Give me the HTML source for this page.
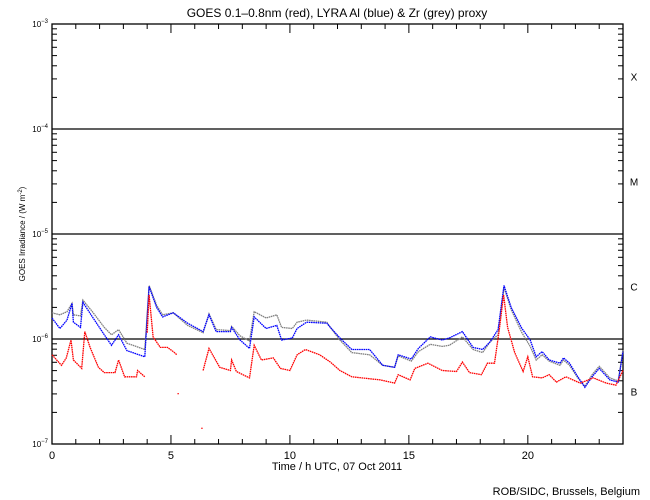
<!DOCTYPE html>
<html><head><meta charset="utf-8"><style>
body{margin:0;background:#fff}
svg{display:block;font-family:"Liberation Sans",sans-serif}
</style></head><body>
<svg id="chart" width="650" height="500" viewBox="0 0 650 500">
<rect width="650" height="500" fill="#fff"/>
<text x="337" y="17" font-size="12" text-anchor="middle">GOES 0.1–0.8nm (red), LYRA Al (blue) &amp; Zr (grey) proxy</text>
<text transform="translate(25,234) rotate(-90)" font-size="8" text-anchor="middle">GOES Irradiance / (W m<tspan dy="-3" font-size="6">-2</tspan><tspan dy="3">)</tspan></text>
<text x="337" y="470" font-size="11" text-anchor="middle">Time / h UTC, 07 Oct 2011</text>
<text x="640" y="495" font-size="11" text-anchor="end">ROB/SIDC, Brussels, Belgium</text>
<g id="axes"></g>
<g id="series"></g>
</svg>
<script>
const xTicks=[0,5,10,15,20];
const yDecades=[-3,-4,-5,-6,-7];
const classLabels=["X","M","C","B"];
const classExps=[-3.5,-4.5,-5.5,-6.5];
const blueTimes=[0,0.33,0.63,0.84,0.9,1.2,1.3,1.7,2.2,2.5,2.8,3.15,3.9,4.08,4.4,4.65,5.1,5.7,6.35,6.6,6.9,7.5,7.55,7.9,8.3,8.5,9.0,9.45,9.65,10.1,10.3,10.7,11.55,11.7,12.1,12.6,13.35,13.9,14.4,14.55,15.1,15.4,15.9,16.4,16.7,17.25,17.7,18.1,18.4,18.75,19.0,19.3,19.75,20.1,20.35,20.6,20.9,21.35,21.5,21.75,22.1,22.4,22.7,23.0,23.45,23.8,24.0];
const blueLog=[-5.80,-5.90,-5.82,-5.66,-5.84,-5.89,-5.65,-5.79,-5.96,-6.06,-5.96,-6.11,-6.17,-5.50,-5.70,-5.79,-5.75,-5.85,-5.93,-5.77,-5.93,-5.93,-5.89,-6.01,-6.09,-5.79,-5.90,-5.87,-6.01,-5.99,-5.90,-5.84,-5.85,-5.89,-5.99,-6.10,-6.10,-6.25,-6.27,-6.15,-6.19,-6.09,-5.98,-6.01,-5.99,-5.93,-6.08,-6.10,-6.03,-5.91,-5.49,-5.70,-5.90,-6.01,-6.17,-6.12,-6.20,-6.23,-6.18,-6.23,-6.36,-6.46,-6.36,-6.28,-6.39,-6.41,-6.12];
const greyLog=[-5.75,-5.77,-5.74,-5.66,-5.77,-5.78,-5.63,-5.74,-5.89,-5.96,-5.91,-6.04,-6.10,-5.49,-5.68,-5.77,-5.75,-5.87,-5.94,-5.76,-5.91,-5.92,-5.88,-5.97,-6.02,-5.74,-5.80,-5.77,-5.89,-5.90,-5.84,-5.82,-5.84,-5.89,-6.01,-6.13,-6.15,-6.25,-6.27,-6.16,-6.21,-6.12,-6.05,-6.07,-6.06,-5.98,-6.10,-6.13,-6.03,-5.96,-5.51,-5.72,-5.94,-6.07,-6.20,-6.15,-6.21,-6.25,-6.20,-6.25,-6.37,-6.45,-6.34,-6.26,-6.37,-6.40,-6.10];
const redTimes=[0,0.4,0.6,0.8,0.9,1.25,1.38,1.6,1.95,2.2,2.65,2.8,3.05,3.55,3.6,3.9,3.95,4.0,4.08,4.25,4.55,4.85,5.1,5.25,5.8,6.35,6.6,7.05,7.5,7.55,7.75,8.3,8.5,8.8,9.3,9.6,10.0,10.3,10.65,11.25,11.7,12.1,12.6,13.8,14.4,14.55,15.05,15.25,15.8,16.4,17.0,17.25,17.55,18.05,18.3,18.6,18.8,18.98,19.15,19.45,19.8,20.0,20.2,20.6,20.9,21.2,21.6,22.2,22.75,23.3,23.7,24.0];
const redLog=[-6.15,-6.25,-6.18,-6.01,-6.20,-6.28,-5.93,-6.08,-6.27,-6.32,-6.32,-6.20,-6.36,-6.36,-6.30,-6.36,null,-5.94,-5.58,-5.98,-6.08,-6.08,-6.12,-6.15,null,-6.30,-6.09,-6.27,-6.30,-6.20,-6.31,-6.37,-6.06,-6.20,-6.18,-6.28,-6.30,-6.15,-6.10,-6.15,-6.22,-6.30,-6.36,-6.39,-6.42,-6.34,-6.39,-6.28,-6.23,-6.30,-6.31,-6.22,-6.32,-6.34,-6.23,-6.23,-5.91,-5.58,-5.89,-6.13,-6.31,-6.17,-6.36,-6.37,-6.34,-6.41,-6.36,-6.42,-6.37,-6.42,-6.44,-6.30];
const redOutlierTimes=[5.3,6.3];
const redOutlierLog=[-6.52,-6.85];

const L=52,R=623,T=24,B=444;
const xs=t=>L+(R-L)*t/24;
const ys=lg=>T+(-3-lg)*(B-T)/4;
const NS="http://www.w3.org/2000/svg";
function mk(tag,attrs,parent){const e=document.createElementNS(NS,tag);for(const k in attrs)e.setAttribute(k,attrs[k]);parent.appendChild(e);return e;}
const ax=document.getElementById('axes');
const frame=mk('rect',{x:L,y:T,width:R-L,height:B-T,fill:'none',stroke:'#000','stroke-width':1.3},ax);


for(let h=0;h<=24;h++){
  const len=h%5===0?9:5,x=xs(h);
  const tb=mk('line',{x1:x,x2:x,y1:B,y2:B-len,stroke:'#000'},ax);
  
  
  const tt=mk('line',{x1:x,x2:x,y1:T,y2:T+len,stroke:'#000'},ax);
  
  
}
xTicks.forEach(t=>{
  const tx=mk('text',{x:xs(t),y:B+15,'font-size':11,'text-anchor':'middle'},ax);
  tx.textContent=t;
  
  
});
yDecades.forEach((d,i)=>{
  const y=ys(d);
  if(d>-7&&d<-3){
    const gl=mk('line',{x1:L,x2:R,y1:y,y2:y,stroke:'#000','stroke-width':1.3},ax);
    
    
  }
  const lb=mk('text',{x:L-4,y:y+3,'font-size':8,'text-anchor':'end'},ax);
  lb.textContent='10';
  const sp=mk('tspan',{dy:-4,'font-size':6},lb);
  sp.textContent='−'+(-d);
  
  
  if(d>-7){
    for(let m=2;m<=9;m++){
      const yy=ys(d-1+Math.log10(m));
      const a=mk('line',{x1:L,x2:L+5,y1:yy,y2:yy,stroke:'#000'},ax);
      
      
      const b=mk('line',{x1:R,x2:R-5,y1:yy,y2:yy,stroke:'#000'},ax);
      
      
    }
  }
});
classLabels.forEach((c,i)=>{
  const t=mk('text',{x:634,y:ys(classExps[i])+4,'font-size':10,'text-anchor':'middle'},ax);
  t.textContent=c;
  
  
});
const sg=document.getElementById('series');
function line(times,vals,color,name){
  let d='',pen=false;
  times.forEach((t,i)=>{const v=vals[i];if(v===null){pen=false;return;}d+=(pen?'L':'M')+xs(t).toFixed(1)+','+ys(v).toFixed(1);pen=true;});
  const p=mk('path',{d:d,fill:'none',stroke:color,'stroke-width':1.3,'stroke-dasharray':'1.6 0.6'},sg);
  
  
}
line(blueTimes,greyLog,'#808080','zr-proxy-series');
line(blueTimes,blueLog,'#0000ff','al-proxy-series');
line(redTimes,redLog,'#ff0000','goes-series');
redOutlierTimes.forEach((t,i)=>{
  const r=mk('rect',{x:xs(t)-0.6,y:ys(redOutlierLog[i])-0.6,width:1.3,height:1.3,fill:'#ff0000'},sg);
  
  
});
</script>
</body></html>
